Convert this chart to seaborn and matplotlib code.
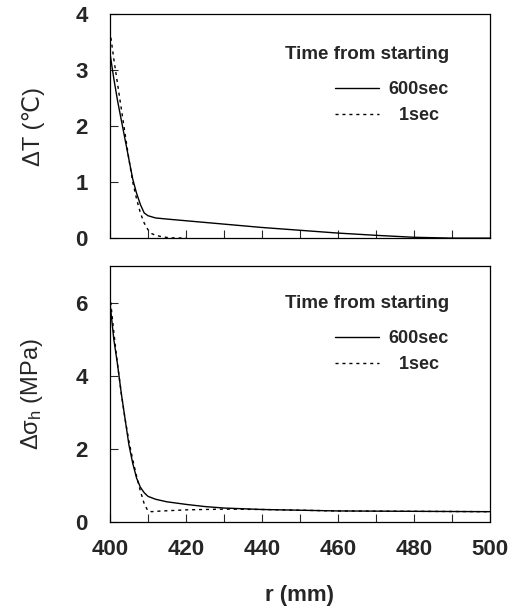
import numpy as np
import pandas as pd
import matplotlib
matplotlib.use("Agg")
import matplotlib.pyplot as plt
import seaborn as sns
from matplotlib.lines import Line2D

# ---- data ----
r_600_T = [400, 401, 402, 403, 404, 405, 406, 407, 408, 409, 410, 412, 415, 420, 430, 440, 450, 460, 470, 480, 490, 500]
dT_600 = [3.3, 2.85, 2.45, 2.1, 1.75, 1.4, 1.05, 0.8, 0.6, 0.45, 0.4, 0.36, 0.34, 0.31, 0.25, 0.19, 0.14, 0.09, 0.05, 0.015, 0.0, 0.0]
r_1_T = [400, 401, 402, 403, 404, 405, 406, 407, 408, 409, 410, 411, 412, 414, 416, 420]
dT_1 = [3.7, 3.2, 2.75, 2.3, 1.85, 1.4, 1.0, 0.7, 0.45, 0.27, 0.15, 0.08, 0.05, 0.02, 0.005, 0.0]

r_600_S = [400, 401, 402, 403, 404, 405, 406, 407, 408, 409, 410, 412, 415, 420, 425, 430, 440, 450, 460, 480, 500]
dS_600 = [6.0, 5.0, 4.3, 3.5, 2.8, 2.1, 1.6, 1.2, 0.95, 0.8, 0.7, 0.62, 0.55, 0.48, 0.42, 0.38, 0.34, 0.32, 0.30, 0.29, 0.28]
r_1_S = [400, 401, 402, 403, 404, 405, 406, 407, 408, 409, 410, 411, 412, 420, 430, 440, 450, 460, 480, 500]
dS_1 = [6.2, 5.2, 4.3, 3.5, 2.8, 2.2, 1.7, 1.25, 0.85, 0.5, 0.3, 0.28, 0.29, 0.33, 0.35, 0.34, 0.32, 0.30, 0.29, 0.28]

series_labels = ["600sec", "1sec"]
legend_title = "Time from starting"
x_ticks = [400, 420, 440, 460, 480, 500]

sns.set_theme(style="ticks")
plt.rcParams['font.family'] = ['Liberation Sans', 'DejaVu Sans']
plt.rcParams['mathtext.fontset'] = 'custom'
plt.rcParams['mathtext.rm'] = 'Liberation Sans'
plt.rcParams['mathtext.it'] = 'Liberation Sans'

fig = plt.figure(figsize=(5.2, 6.09), dpi=100)
ax1 = fig.add_axes([0.2115, 0.609, 0.7305, 0.368])
ax2 = fig.add_axes([0.2115, 0.143, 0.7305, 0.420])

DOT = (0, (2.2, 2.8))

def draw(ax, r6, v6, r1, v1, anchor_y):
    df6 = pd.DataFrame({"r": r6, "v": v6})
    df1 = pd.DataFrame({"r": r1, "v": v1})
    sns.lineplot(data=df6, x="r", y="v", ax=ax, color="black", lw=1.0)
    sns.lineplot(data=df1, x="r", y="v", ax=ax, color="black", lw=1.0, linestyle=DOT)
    ax.set_xlim(400, 500)
    ax.set_xticks(x_ticks)
    ax.set_xticks(np.arange(400, 501, 10), minor=True)
    ax.tick_params(axis='x', which='both', direction='in', length=6, width=0.8)
    ax.tick_params(axis='y', direction='in', length=6, width=0.8, pad=16)
    for s in ax.spines.values():
        s.set_linewidth(0.9)
        s.set_color("black")
    ax.set_xlabel("")
    handles = [Line2D([], [], color="black", lw=1.0),
               Line2D([], [], color="black", lw=1.0, linestyle=DOT)]
    labels = [series_labels[0], "  " + series_labels[1]]
    leg = ax.legend(handles, labels, title=legend_title, frameon=False,
                    loc="upper right", bbox_to_anchor=(0.935, anchor_y),
                    prop={"size": 13, "weight": "bold"}, handlelength=2.4,
                    handletextpad=0.55, alignment="right", labelspacing=0.5)
    leg.get_title().set_fontsize(13.5)
    leg.get_title().set_fontweight("bold")
    leg._legend_box.sep = 13

draw(ax1, r_600_T, dT_600, r_1_T, dT_1, 0.93)
draw(ax2, r_600_S, dS_600, r_1_S, dS_1, 0.95)

ax1.set_ylim(0, 4)
ax1.set_yticks([0, 1, 2, 3, 4])
ax1.tick_params(axis='x', labelbottom=False)
ax2.set_ylim(0, 7)
ax2.set_yticks([0, 2, 4, 6])

for ax in (ax1, ax2):
    for lab in ax.get_yticklabels() + ax.get_xticklabels():
        lab.set_fontsize(16)
        lab.set_fontweight("bold")

ax1.set_ylabel("ΔT (℃)", fontsize=17, labelpad=22)
ax2.set_ylabel(r"$\Delta\sigma_h$ (MPa)", fontsize=17, labelpad=22)
ax2.tick_params(axis='x', pad=12)
ax2.set_xlabel("r (mm)", fontsize=16, fontweight="bold", labelpad=18)

fig.savefig("out.png", dpi=100)
